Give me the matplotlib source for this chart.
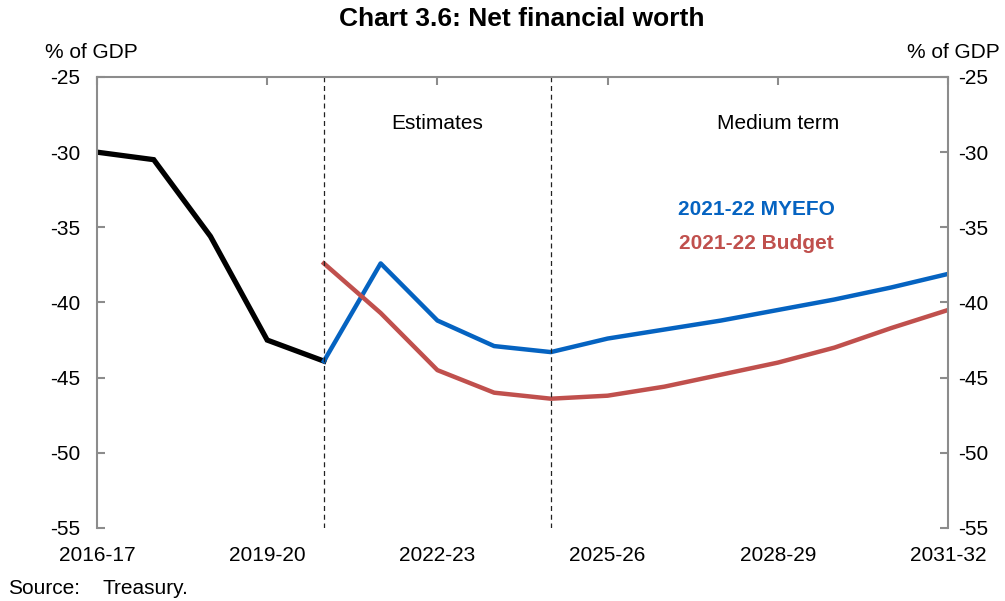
import matplotlib
matplotlib.use("Agg")
from matplotlib import pyplot as plt

plt.rcParams['font.family'] = ['Liberation Sans', 'DejaVu Sans']
plt.rcParams['axes.unicode_minus'] = False

years = ['2016-17', '2017-18', '2018-19', '2019-20', '2020-21', '2021-22',
         '2022-23', '2023-24', '2024-25', '2025-26', '2026-27', '2027-28',
         '2028-29', '2029-30', '2030-31', '2031-32']

# actuals up to 2020-21
actual = [-30.0, -30.5, -35.6, -42.5, -43.9]
# projections start at 2020-21
myefo = [-43.9, -37.4, -41.2, -42.9, -43.3, -42.4, -41.8, -41.2, -40.5,
         -39.8, -39.0, -38.1]
budget = [-37.4, -40.7, -44.5, -46.0, -46.4, -46.2, -45.6, -44.8, -44.0,
          -43.0, -41.7, -40.5]

blue = '#0563C1'
red = '#C0504D'
grey = '#8C8C8C'
fs = 15

fig = plt.figure(figsize=(10.05, 6.01), dpi=100)
ax = fig.add_axes([0.0965, 0.1215, 0.8468, 0.7504])

x = list(range(len(years)))
ax.plot(x[:len(actual)], actual, color='black', lw=3.8, solid_joinstyle='miter')
ax.plot(x[4:], myefo, color=blue, lw=3.2)
ax.plot(x[4:], budget, color=red, lw=3.2)

# period dividers
for xv in (4, 8):
    ax.axvline(xv, color='#222222', lw=0.9, ls=(0, (4, 3)))

ax.set_xlim(0, 15)
ax.set_ylim(-55, -25)

ax.spines['bottom'].set_visible(False)
for s in ('left', 'right', 'top'):
    ax.spines[s].set_color(grey)
    ax.spines[s].set_linewidth(1.5)

yt = list(range(-55, -24, 5))
ax.set_yticks(yt)
ax.tick_params(axis='y', direction='in', length=6, width=1.5, color=grey,
               labelsize=fs, left=True, right=False, pad=12)

# right hand scale
ax2 = ax.twinx()
ax2.set_ylim(-55, -25)
ax2.set_yticks(yt)
ax2.tick_params(axis='y', direction='in', length=6, width=1.5, color=grey,
                labelsize=fs, pad=7)
for s in ax2.spines.values():
    s.set_visible(False)

# category axis sits at the top, labels shown at the bottom
ax.set_xticks(x[::3])
ax.set_xticklabels(years[::3])
ax.tick_params(axis='x', direction='in', length=6, width=1.5, color=grey,
               top=True, bottom=False, labelsize=fs, pad=13)

ax.text(6, -28.1, 'Estimates', ha='center', va='center', fontsize=fs)
ax.text(12, -28.1, 'Medium term', ha='center', va='center', fontsize=fs)
ax.text(11.62, -33.8, '2021-22 MYEFO', color=blue, ha='center', va='center',
        fontsize=fs, fontweight='bold')
ax.text(11.62, -36.1, '2021-22 Budget', color=red, ha='center', va='center',
        fontsize=fs, fontweight='bold')

fig.text(0.519, 0.968, 'Chart 3.6: Net financial worth', ha='center', va='center',
         fontsize=19, fontweight='bold')
fig.text(0.045, 0.913, '% of GDP', ha='left', va='center', fontsize=fs)
fig.text(0.995, 0.913, '% of GDP', ha='right', va='center', fontsize=fs)
fig.text(0.008, 0.02, 'Source:', ha='left', va='center', fontsize=fs)
fig.text(0.102, 0.02, 'Treasury.', ha='left', va='center', fontsize=fs)

fig.savefig('out.png', dpi=100)
